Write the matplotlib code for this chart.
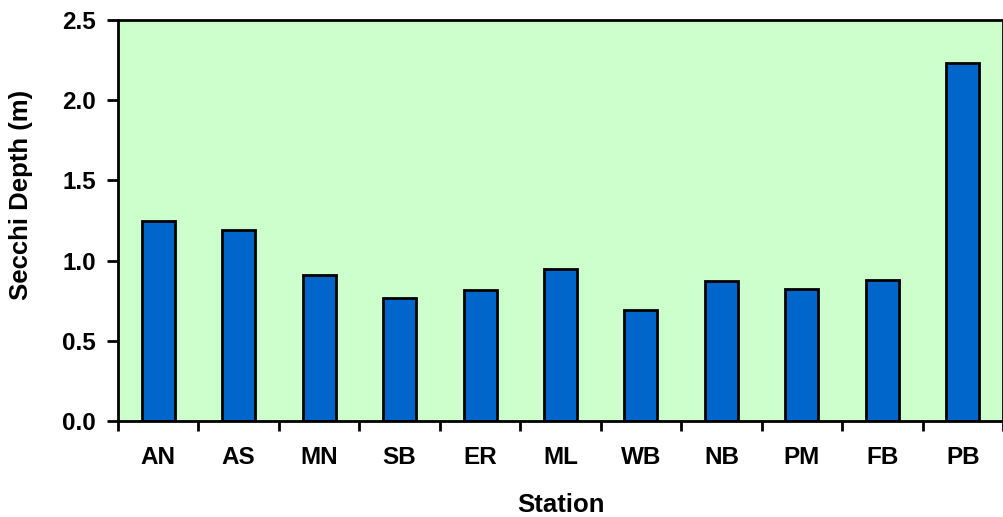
import numpy as np
import matplotlib.pyplot as plt
from matplotlib.ticker import MultipleLocator, FixedLocator

# Secchi depth per station
stations = ["AN", "AS", "MN", "SB", "ER", "ML", "WB", "NB", "PM", "FB", "PB"]
depths = [1.25, 1.19, 0.91, 0.765, 0.815, 0.945, 0.69, 0.875, 0.82, 0.88, 2.235]

plt.rcParams['font.family'] = ['Liberation Sans', 'DejaVu Sans']
plt.rcParams['font.weight'] = 'bold'

fig = plt.figure(figsize=(10.04, 5.17), dpi=100)
ax = fig.add_axes([0.1175, 0.1857, 0.8815, 0.7756])
ax.set_facecolor("#CCFFCC")

x = np.arange(len(stations))
ax.bar(x, depths, width=0.41, color="#0066CC", edgecolor="black", linewidth=2, zorder=2)

ax.set_xlim(-0.5, len(stations) - 0.5)
ax.set_ylim(0, 2.5)
ax.yaxis.set_major_locator(MultipleLocator(0.5))
ax.yaxis.set_major_formatter(plt.FuncFormatter(lambda v, p: f"{v:.1f}"))

ax.set_xticks(x)
ax.set_xticklabels(stations)
ax.xaxis.set_minor_locator(FixedLocator(np.arange(-0.5, len(stations), 1.0)))
ax.tick_params(axis="x", which="major", length=0, pad=18, labelsize=17.5)
ax.tick_params(axis="x", which="minor", length=7, width=2, direction="out")
ax.tick_params(axis="y", length=8, width=2, direction="out", pad=8, labelsize=17.5)

for s in ax.spines.values():
    s.set_linewidth(2)

ax.set_xlabel("Station", fontsize=18.5, fontweight="bold", labelpad=17)
ax.set_ylabel("Secchi Depth (m)", fontsize=18.5, fontweight="bold")
ax.yaxis.set_label_coords(-0.096, 0.564)

fig.savefig("out.png", dpi=100)
